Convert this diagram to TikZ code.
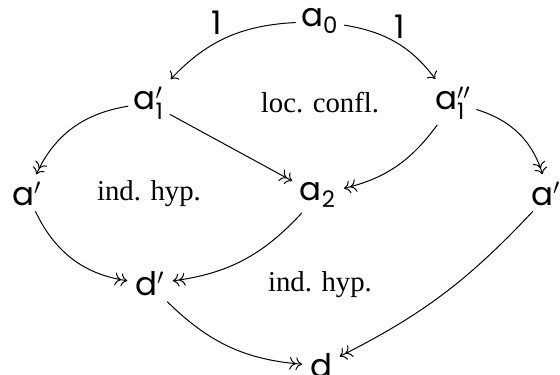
\documentclass[tikz,border=0pt]{standalone}
\usepackage{fontspec}
\setmainfont{Liberation Serif}
\setsansfont{Poppins}
\usepackage{tikz}
\usetikzlibrary{arrows.meta, positioning, calc}

\tikzset{
    obj/.style={font=\fontsize{13}{15}\selectfont, inner sep=2pt},
    cell/.style={font=\fontsize{11.5}{14}\selectfont},
    onto/.style={-{To[]To[]}, shorten >=1pt},
    into/.style={-{To[]}, shorten >=1pt}
}

\begin{document}
\begin{tikzpicture}[x=0.4pt, y=-0.4pt, >=To]
    \useasboundingbox (0,0) rectangle (560,374);
    % objects
    \node[obj] (a0)  at (320,21)  {$\mathsf{a}_{\mathsf{0}}$};
    \node[obj] (a1p) at (149,103) {$\mathsf{a}'_{\mathsf{1}}$};
    \node[obj] (a1q) at (453,103) {$\mathsf{a}''_{\mathsf{1}}$};
    \node[obj] (ap)  at (27,194)  {$\mathsf{a}'$};
    \node[obj] (a2)  at (318,195) {$\mathsf{a}_{\mathsf{2}}$};
    \node[obj] (aq)  at (549,194) {$\mathsf{a}''$};
    \node[obj] (dp)  at (150,284) {$\mathsf{d}'$};
    \node[obj] (d)   at (321,366) {$\mathsf{d}$};
    % cells
    \node[cell] (lc)  at (320,103) {loc. confl.};
    \node[cell] (ih1) at (149,194) {ind. hyp.};
    \node[cell] (ih2) at (320,285) {ind. hyp.};
    % arrows
    \draw[into] (a0) to[bend right=22] node[pos=0.5, above left=-1pt, obj] {$\mathsf{1}$} (a1p);
    \draw[into] (a0) to[bend left=22] node[pos=0.45, above right=-2pt, obj] {$\mathsf{1}$} (a1q);
    \draw[onto] (a1p) to[bend right=28] (ap);
    \draw[onto] (a1p) -- (a2);
    \draw[onto] (a1q) to[bend left=20] (a2);
    \draw[onto] (a1q) to[bend left=28] (aq);
    \draw[onto] (ap) to[bend right=28] (dp);
    \draw[onto] (a2) to[bend left=20] (dp);
    \draw[onto] (dp) to[bend right=20] (d);
    \draw[onto] (aq) to[bend left=10] (d);
\end{tikzpicture}
\end{document}
